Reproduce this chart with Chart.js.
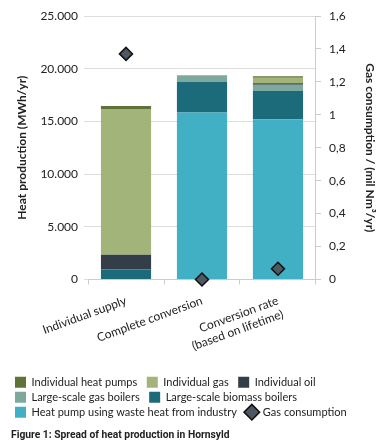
<!DOCTYPE html>
<html>
<head>
<meta charset="utf-8">
<script src="https://cdn.jsdelivr.net/npm/chart.js@4"></script>
<style>
  html, body { margin: 0; padding: 0; background: #fff; }
  #wrap { width: 390px; height: 448px; position: relative; }
</style>
</head>
<body>
<div id="wrap"><canvas id="myChart"></canvas></div>
<script>
    // categories and values (MWh/yr)
    var categories = ['Individual supply', 'Complete conversion', ['Conversion rate', '(based on lifetime)']];
    var wasteHeatPump = [0, 15850, 15200];
    var biomassBoilers = [950, 2920, 2700];
    var gasBoilers = [0, 620, 580];
    var individualOil = [1400, 0, 130];
    var individualGas = [13830, 0, 520];
    var individualHeatPumps = [290, 0, 160];
    // gas consumption (mil Nm3/yr)
    var gasConsumption = [1.37, 0, 0.065];

    var font = "Lato, 'Open Sans', sans-serif";
    var legendOrder = [5, 4, 3, 2, 1, 0, 6];

    function thousands(v) {
        return String(Math.round(v)).replace(/\B(?=(\d{3})+(?!\d))/g, '.');
    }

    function barSet(label, values, color) {
        return {
            type: 'bar',
            label: label,
            data: values,
            backgroundColor: color,
            borderWidth: 0,
            pointStyle: 'rect',
            yAxisID: 'y',
            order: 1
        };
    }

    var data = {
        labels: categories,
        datasets: [
            barSet('Heat pump using waste heat from industry', wasteHeatPump, '#41b0c5'),
            barSet('Large-scale biomass boilers', biomassBoilers, '#1b6b7a'),
            barSet('Large-scale gas boilers', gasBoilers, '#7fa89c'),
            barSet('Individual oil', individualOil, '#343e48'),
            barSet('Individual gas', individualGas, '#a3b47a'),
            barSet('Individual heat pumps', individualHeatPumps, '#5f7237'),
            {
                type: 'line',
                label: 'Gas consumption',
                data: gasConsumption,
                showLine: false,
                pointStyle: 'rectRot',
                pointRadius: 6.5,
                backgroundColor: '#4d5862',
                borderColor: '#111111',
                borderWidth: 1.5,
                yAxisID: 'y1',
                order: 0,
                clip: false
            }
        ]
    };

    var config = {
        type: 'bar',
        data: data,
        options: {
            responsive: true,
            maintainAspectRatio: false,
            animation: false,
            barPercentage: 0.66,
            categoryPercentage: 1,
            layout: {
                padding: { left: 11, right: 6, top: 16, bottom: 6 }
            },
            plugins: {
                tooltip: { enabled: false },
                legend: {
                    position: 'bottom',
                    align: 'start',
                    labels: {
                        usePointStyle: true,
                        boxWidth: 12,
                        boxHeight: 12,
                        padding: 4,
                        color: '#222',
                        font: { family: font, size: 11 },
                        generateLabels: function (chart) {
                            var items = Chart.defaults.plugins.legend.labels.generateLabels(chart);
                            items.forEach(function (item) { item.text = item.text + '\u2002'; });
                            return items;
                        },
                        sort: function (a, b) {
                            return legendOrder.indexOf(a.datasetIndex) - legendOrder.indexOf(b.datasetIndex);
                        }
                    }
                },
                title: {
                    display: true,
                    position: 'bottom',
                    align: 'start',
                    text: 'Figure 1: Spread of heat production in Hornsyld',
                    color: '#222',
                    font: { family: "'Liberation Sans Narrow', Roboto, sans-serif", size: 10.3, weight: 'bold' },
                    padding: { top: 2, bottom: 0 }
                }
            },
            scales: {
                x: {
                    stacked: true,
                    grid: {
                        offset: true,
                        drawOnChartArea: false,
                        tickLength: 5,
                        color: '#cccccc'
                    },
                    border: { display: true, color: '#cccccc' },
                    ticks: {
                        autoSkip: false,
                        minRotation: 20,
                        maxRotation: 20,
                        padding: 9,
                        color: '#222',
                        font: { family: font, size: 12 }
                    },
                    afterFit: function (scale) {
                        scale.height += 5;
                    }
                },
                y: {
                    stacked: true,
                    min: 0,
                    max: 25000,
                    position: 'left',
                    grid: { color: '#dddddd', tickLength: 4 },
                    border: { display: false },
                    ticks: {
                        stepSize: 5000,
                        color: '#222',
                        padding: 6,
                        font: { family: font, size: 12 },
                        callback: function (v) { return thousands(v); }
                    },
                    title: {
                        display: true,
                        text: 'Heat production (MWh/yr)',
                        color: '#222',
                        font: { family: font, size: 12, weight: 'bold' },
                        padding: { top: 4, bottom: 5 }
                    }
                },
                y1: {
                    min: 0,
                    max: 1.6,
                    position: 'right',
                    grid: { drawOnChartArea: false, tickLength: 5, color: '#cccccc' },
                    border: { display: true, color: '#cccccc' },
                    ticks: {
                        stepSize: 0.2,
                        color: '#222',
                        padding: 8,
                        font: { family: font, size: 12 },
                        callback: function (v) { return String(Math.round(v * 10) / 10).replace('.', ','); }
                    },
                    title: {
                        display: true,
                        text: 'Gas consumption / (mil Nm³/yr)',
                        color: '#222',
                        font: { family: font, size: 12, weight: 'bold' },
                        padding: { top: 7, bottom: 9 }
                    }
                }
            }
        }
    };

    var myChart = new Chart(
        document.getElementById('myChart').getContext('2d'),
        config
    );
</script>
</body>
</html>
